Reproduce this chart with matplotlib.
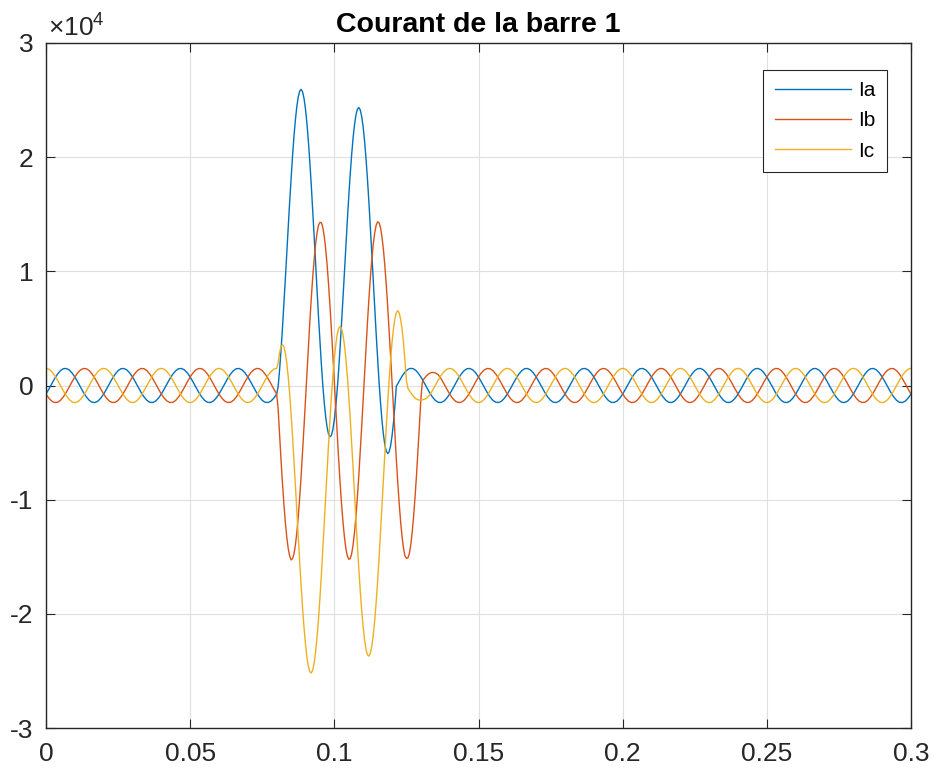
import numpy as np
import matplotlib
matplotlib.use("Agg")
import matplotlib.pyplot as plt

plt.rcParams['font.family'] = ['Liberation Sans', 'DejaVu Sans']
plt.rcParams['axes.unicode_minus'] = False
plt.rcParams['mathtext.fontset'] = 'custom'
plt.rcParams['mathtext.rm'] = 'Liberation Sans'
plt.rcParams['mathtext.it'] = 'Liberation Sans:italic'

# time base in ms: 1 ms steps, 0.5 ms during the fault (80 - 130.5 ms)
t_ms = np.concatenate([np.arange(0, 80), np.arange(160, 262) / 2, np.arange(131, 301)])
t = t_ms / 1000

# phase currents (A)
Ia = np.array([
    # 0 - 79 ms
    -750, -310, 160, 610, 1000, 1300, 1470, 1490, 1370, 1110, 750, 310, -160, -610, -1000, -1300, -1470, -1490, -1370, -1110,
    -750, -310, 160, 610, 1000, 1300, 1470, 1490, 1370, 1110, 750, 310, -160, -610, -1000, -1300, -1470, -1490, -1370, -1110,
    -750, -310, 160, 610, 1000, 1300, 1470, 1490, 1370, 1110, 750, 310, -160, -610, -1000, -1300, -1470, -1490, -1370, -1110,
    -750, -310, 160, 610, 1000, 1300, 1470, 1490, 1370, 1110, 750, 310, -160, -610, -1000, -1300, -1470, -1490, -1370, -1110,
    # 80 - 130.5 ms
    -750, -130, 1330, 3060, 4990, 7090, 9300, 11580, 13850, 16060, 18160, 20100, 21820, 23280, 24450, 25300, 25800, 25940, 25710, 25130,
    24200, 22940, 21390, 19580, 17560, 15370, 13070, 10720, 8360, 6060, 3880, 1860, 50, -1500, -2750, -3680, -4270, -4490, -4350, -3840,
    -2990, -1820, -350, 1380, 3320, 5430, 7650, 9920, 12200, 14420, 16530, 18470, 20200, 21670, 22850, 23700, 24200, 24350, 24130, 23550,
    22630, 21380, 19830, 18030, 16020, 13830, 11540, 9190, 6840, 4550, 2370, 350, -1450, -2990, -4240, -5170, -5740, -5960, -5810, -5300,
    -4450, -3270, -1790, -60, 160, 390, 610, 820, 1000, 1170, 1300, 1400, 1470, 1500, 1490, 1450, 1370, 1260, 1110, 940,
    750, 540,
    # 131 - 300 ms
    310, -160, -610, -1000, -1300, -1470, -1490, -1370, -1110,
    -750, -310, 160, 610, 1000, 1300, 1470, 1490, 1370, 1110, 750, 310, -160, -610, -1000, -1300, -1470, -1490, -1370, -1110,
    -750, -310, 160, 610, 1000, 1300, 1470, 1490, 1370, 1110, 750, 310, -160, -610, -1000, -1300, -1470, -1490, -1370, -1110,
    -750, -310, 160, 610, 1000, 1300, 1470, 1490, 1370, 1110, 750, 310, -160, -610, -1000, -1300, -1470, -1490, -1370, -1110,
    -750, -310, 160, 610, 1000, 1300, 1470, 1490, 1370, 1110, 750, 310, -160, -610, -1000, -1300, -1470, -1490, -1370, -1110,
    -750, -310, 160, 610, 1000, 1300, 1470, 1490, 1370, 1110, 750, 310, -160, -610, -1000, -1300, -1470, -1490, -1370, -1110,
    -750, -310, 160, 610, 1000, 1300, 1470, 1490, 1370, 1110, 750, 310, -160, -610, -1000, -1300, -1470, -1490, -1370, -1110,
    -750, -310, 160, 610, 1000, 1300, 1470, 1490, 1370, 1110, 750, 310, -160, -610, -1000, -1300, -1470, -1490, -1370, -1110,
    -750, -310, 160, 610, 1000, 1300, 1470, 1490, 1370, 1110, 750, 310, -160, -610, -1000, -1300, -1470, -1490, -1370, -1110,
    -750,
])

Ib = np.array([
    # 0 - 79 ms
    -750, -1110, -1370, -1490, -1470, -1300, -1000, -610, -160, 310, 750, 1110, 1370, 1490, 1470, 1300, 1000, 610, 160, -310,
    -750, -1110, -1370, -1490, -1470, -1300, -1000, -610, -160, 310, 750, 1110, 1370, 1490, 1470, 1300, 1000, 610, 160, -310,
    -750, -1110, -1370, -1490, -1470, -1300, -1000, -610, -160, 310, 750, 1110, 1370, 1490, 1470, 1300, 1000, 610, 160, -310,
    -750, -1110, -1370, -1490, -1470, -1300, -1000, -610, -160, 310, 750, 1110, 1370, 1490, 1470, 1300, 1000, 610, 160, -310,
    # 80 - 130.5 ms
    -750, -2000, -4280, -6470, -8510, -10350, -11950, -13270, -14270, -14930, -15280, -15170, -14750, -13970, -12860, -11450, -9760, -7850, -5750, -3530,
    -1230, 1100, 3380, 5570, 7610, 9450, 11050, 12370, 13370, 14030, 14290, 14270, 13850, 13070, 11960, 10550, 8860, 6950, 4850, 2630,
    330, -2000, -4280, -6470, -8510, -10350, -11950, -13270, -14270, -14930, -15220, -15170, -14750, -13970, -12860, -11450, -9760, -7850, -5750, -3530,
    -1230, 1100, 3380, 5570, 7610, 9450, 11050, 12370, 13370, 14030, 14340, 14270, 13850, 13070, 11960, 10550, 8860, 6950, 4850, 2630,
    330, -2000, -4280, -6470, -8510, -10350, -11950, -13270, -14270, -14930, -15130, -15100, -14750, -13970, -12860, -11450, -9760, -7850, -5750, -3530,
    -1230, 250,
    # 131 - 300 ms
    550, 870, 1070, 1150, 1110, 950, 610, 160, -310,
    -750, -1110, -1370, -1490, -1470, -1300, -1000, -610, -160, 310, 750, 1110, 1370, 1490, 1470, 1300, 1000, 610, 160, -310,
    -750, -1110, -1370, -1490, -1470, -1300, -1000, -610, -160, 310, 750, 1110, 1370, 1490, 1470, 1300, 1000, 610, 160, -310,
    -750, -1110, -1370, -1490, -1470, -1300, -1000, -610, -160, 310, 750, 1110, 1370, 1490, 1470, 1300, 1000, 610, 160, -310,
    -750, -1110, -1370, -1490, -1470, -1300, -1000, -610, -160, 310, 750, 1110, 1370, 1490, 1470, 1300, 1000, 610, 160, -310,
    -750, -1110, -1370, -1490, -1470, -1300, -1000, -610, -160, 310, 750, 1110, 1370, 1490, 1470, 1300, 1000, 610, 160, -310,
    -750, -1110, -1370, -1490, -1470, -1300, -1000, -610, -160, 310, 750, 1110, 1370, 1490, 1470, 1300, 1000, 610, 160, -310,
    -750, -1110, -1370, -1490, -1470, -1300, -1000, -610, -160, 310, 750, 1110, 1370, 1490, 1470, 1300, 1000, 610, 160, -310,
    -750, -1110, -1370, -1490, -1470, -1300, -1000, -610, -160, 310, 750, 1110, 1370, 1490, 1470, 1300, 1000, 610, 160, -310,
    -750,
])

Ic = np.array([
    # 0 - 79 ms
    1500, 1430, 1210, 880, 460, 0, -460, -880, -1210, -1430, -1500, -1430, -1210, -880, -460, 0, 460, 880, 1210, 1430,
    1500, 1430, 1210, 880, 460, 0, -460, -880, -1210, -1430, -1500, -1430, -1210, -880, -460, 0, 460, 880, 1210, 1430,
    1500, 1430, 1210, 880, 460, 0, -460, -880, -1210, -1430, -1500, -1430, -1210, -880, -460, 0, 460, 880, 1210, 1430,
    1500, 1430, 1210, 880, 460, 0, -460, -880, -1210, -1430, -1500, -1430, -1210, -880, -460, 0, 460, 880, 1210, 1430,
    # 80 - 130.5 ms
    1500, 1960, 2850, 3400, 3580, 3400, 2860, 1980, 780, -720, -2470, -4430, -6550, -8780, -11050, -13320, -15530, -17620, -19540, -21230,
    -22670, -23810, -24620, -25080, -25180, -24920, -24300, -23340, -22050, -20470, -18640, -16600, -14400, -12090, -9740, -7390, -5100, -2930, -930, 840,
    2360, 3570, 4460, 5000, 5180, 5000, 4450, 3560, 2350, 850, -910, -2870, -5000, -7230, -9510, -11790, -14000, -16100, -18020, -19720,
    -21170, -22310, -23130, -23600, -23700, -23450, -22830, -21870, -20590, -19020, -17190, -15160, -12960, -10660, -8310, -5970, -3690, -1520, 470, 2240,
    3750, 4960, 5840, 6380, 6550, 6360, 5810, 4920, 3700, 2190, 430, -230, -440, -630, -800, -960, -1100, -1190, -1250, -1270,
    -1270, -1250,
    # 131 - 300 ms
    -1230, -1120, -850, -460, 0, 460, 880, 1210, 1430,
    1500, 1430, 1210, 880, 460, 0, -460, -880, -1210, -1430, -1500, -1430, -1210, -880, -460, 0, 460, 880, 1210, 1430,
    1500, 1430, 1210, 880, 460, 0, -460, -880, -1210, -1430, -1500, -1430, -1210, -880, -460, 0, 460, 880, 1210, 1430,
    1500, 1430, 1210, 880, 460, 0, -460, -880, -1210, -1430, -1500, -1430, -1210, -880, -460, 0, 460, 880, 1210, 1430,
    1500, 1430, 1210, 880, 460, 0, -460, -880, -1210, -1430, -1500, -1430, -1210, -880, -460, 0, 460, 880, 1210, 1430,
    1500, 1430, 1210, 880, 460, 0, -460, -880, -1210, -1430, -1500, -1430, -1210, -880, -460, 0, 460, 880, 1210, 1430,
    1500, 1430, 1210, 880, 460, 0, -460, -880, -1210, -1430, -1500, -1430, -1210, -880, -460, 0, 460, 880, 1210, 1430,
    1500, 1430, 1210, 880, 460, 0, -460, -880, -1210, -1430, -1500, -1430, -1210, -880, -460, 0, 460, 880, 1210, 1430,
    1500, 1430, 1210, 880, 460, 0, -460, -880, -1210, -1430, -1500, -1430, -1210, -880, -460, 0, 460, 880, 1210, 1430,
    1500,
])

xticks = [0, 0.05, 0.1, 0.15, 0.2, 0.25, 0.3]
xlabels = ["0", "0.05", "0.1", "0.15", "0.2", "0.25", "0.3"]
yticks = [-3e4, -2e4, -1e4, 0, 1e4, 2e4, 3e4]
ylabels = ["-3", "-2", "-1", "0", "1", "2", "3"]

axcol = '#262626'

fig = plt.figure(figsize=(9.36, 7.76), dpi=100)
ax = fig.add_axes([46/936, 48/776, 865/936, 685/776])

ax.plot(t, Ia, color='#0072BD', lw=1.0, label='Ia')
ax.plot(t, Ib, color='#D95319', lw=1.0, label='Ib')
ax.plot(t, Ic, color='#EDB120', lw=1.0, label='Ic')

ax.set_xlim(0, 0.3)
ax.set_ylim(-3e4, 3e4)
ax.set_xticks(xticks)
ax.set_xticklabels(xlabels)
ax.set_yticks(yticks)
ax.set_yticklabels(ylabels)
ax.grid(True, color='#dfdfdf', lw=0.8)
ax.set_axisbelow(True)
ax.tick_params(direction='in', length=6.5, width=0.8, top=True, right=True,
               labelsize=19, colors=axcol)
ax.tick_params(axis='x', pad=10)
ax.tick_params(axis='y', pad=9)
for s in ax.spines.values():
    s.set_linewidth(1.0)
    s.set_color(axcol)

ax.set_title('Courant de la barre 1', fontsize=20.5, fontweight='bold', pad=8, color='black')
ax.text(0.002, 1.009, r'$\times10^{4}$', transform=ax.transAxes, fontsize=19,
        ha='left', va='baseline', color=axcol)

leg = ax.legend(loc='upper right', bbox_to_anchor=(0.9723, 0.9606), borderaxespad=0,
                fancybox=False, edgecolor=axcol, handlelength=3.65, fontsize=15,
                framealpha=1, labelspacing=0.53, handletextpad=0.35, borderpad=0.55)
leg.get_frame().set_linewidth(0.8)

fig.savefig('out.png', dpi=100)
